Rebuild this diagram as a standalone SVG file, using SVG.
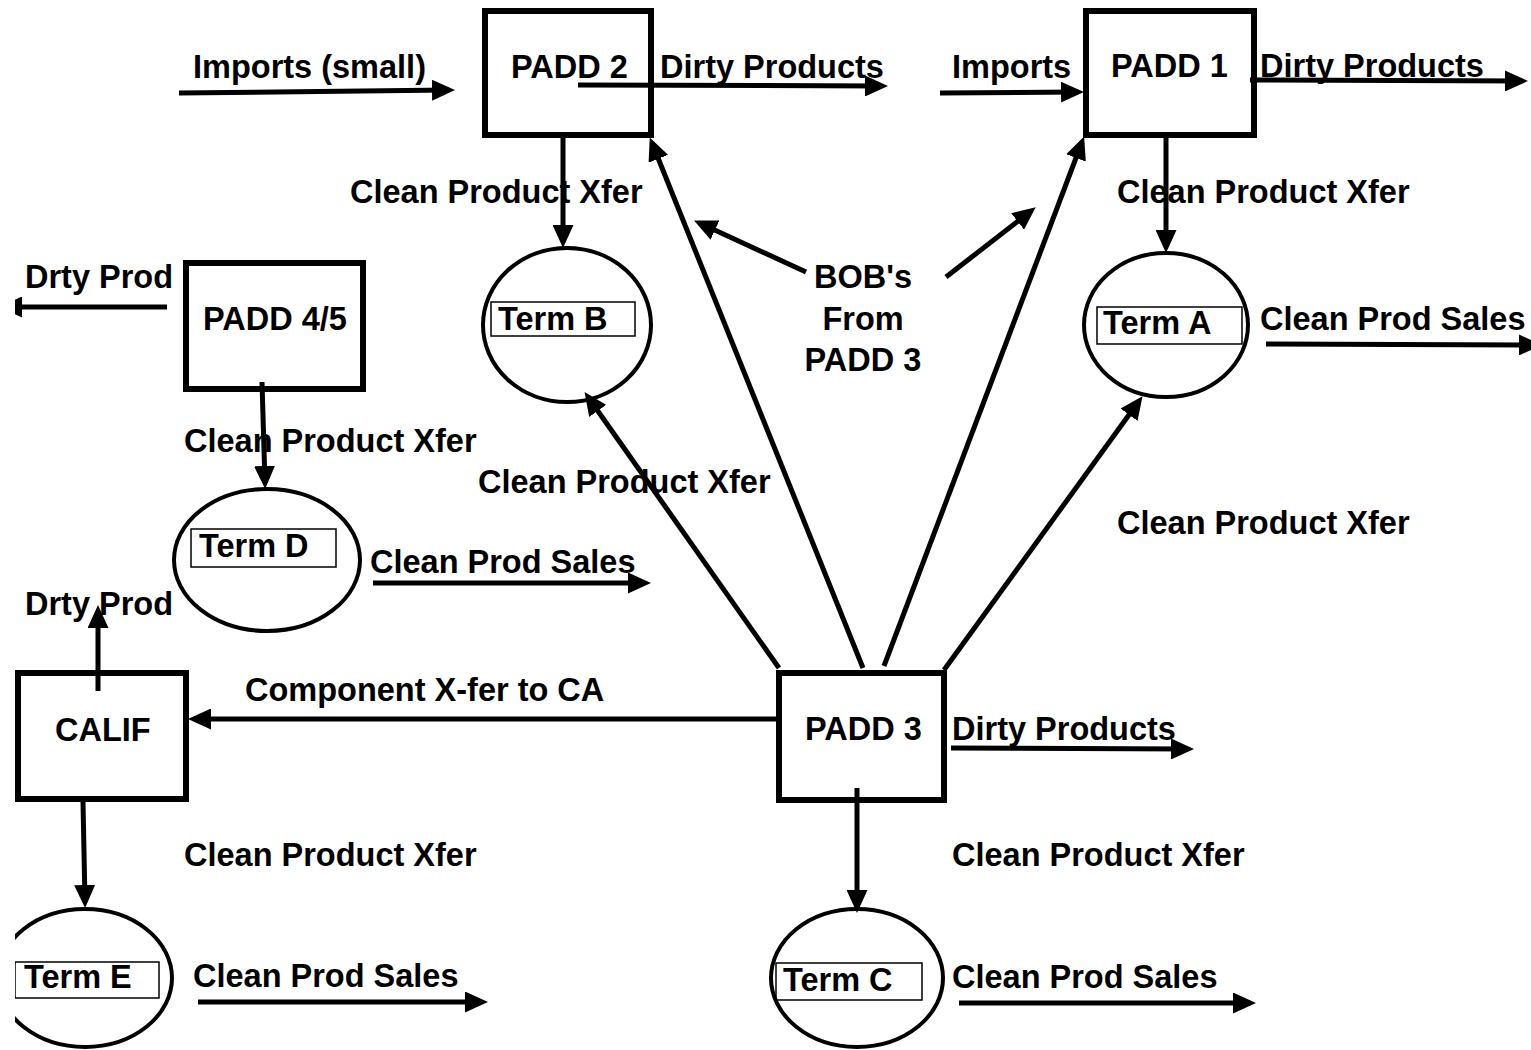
<svg xmlns="http://www.w3.org/2000/svg" width="1531" height="1050" viewBox="0 0 1531 1050">
<defs>
<style>
text{font-family:"Liberation Sans",Arial,sans-serif;font-weight:bold;font-size:32.5px;fill:#000}
.box{fill:#fff;stroke:#000;stroke-width:6}
.term{fill:#fff;stroke:#000;stroke-width:4}
.lbl{fill:none;stroke:#000;stroke-width:1.5}
.c{fill:none;stroke:#000;stroke-width:5;stroke-linecap:butt;marker-end:url(#ah)}
</style>
<marker id="ah" markerUnits="userSpaceOnUse" markerWidth="23" markerHeight="21" refX="17" refY="10.5" orient="auto" viewBox="0 0 23 21"><path d="M0,0 L23,10.5 L0,21 Z" fill="#000"/></marker>
<clipPath id="clip"><rect x="15" y="0" width="1516" height="1050"/></clipPath>
</defs>
<rect x="0" y="0" width="1531" height="1050" fill="#fff"/>
<g clip-path="url(#clip)">
<g id="labels">
<text x="193" y="78">Imports (small)</text>
<text x="660" y="78">Dirty Products</text>
<text x="952" y="78">Imports</text>
<text x="1260" y="77">Dirty Products</text>
<text x="350" y="203">Clean Product Xfer</text>
<text x="1117" y="203">Clean Product Xfer</text>
<text x="25" y="288">Drty Prod</text>
<text x="863" y="288" text-anchor="middle">BOB's</text>
<text x="863" y="330" text-anchor="middle">From</text>
<text x="863" y="371" text-anchor="middle">PADD 3</text>
<text x="1260" y="330">Clean Prod Sales</text>
<text x="184" y="452">Clean Product Xfer</text>
<text x="478" y="493">Clean Product Xfer</text>
<text x="1117" y="534">Clean Product Xfer</text>
<text x="370" y="573">Clean Prod Sales</text>
<text x="25" y="615">Drty Prod</text>
<text x="245" y="701">Component X-fer to CA</text>
<text x="952" y="740">Dirty Products</text>
<text x="184" y="866">Clean Product Xfer</text>
<text x="952" y="866">Clean Product Xfer</text>
<text x="193" y="987">Clean Prod Sales</text>
<text x="952" y="988">Clean Prod Sales</text>
</g>
<g id="padd2"><rect class="box" x="485" y="11" width="166" height="124"/><text x="511" y="78">PADD 2</text></g>
<g id="padd1"><rect class="box" x="1086" y="11" width="168" height="124"/><text x="1111" y="77">PADD 1</text></g>
<g id="padd45"><rect class="box" x="186" y="263" width="177" height="126"/><text x="203" y="330">PADD 4/5</text></g>
<g id="calif"><rect class="box" x="18" y="673" width="168" height="126"/><text x="55" y="741">CALIF</text></g>
<g id="padd3"><rect class="box" x="779" y="673" width="165" height="127"/><text x="805" y="740">PADD 3</text></g>
<g id="termB"><ellipse class="term" cx="567" cy="325" rx="84" ry="77"/><rect class="lbl" x="491" y="302" width="144" height="34"/><text x="498" y="330">Term B</text></g>
<g id="termA"><ellipse class="term" cx="1166" cy="325" rx="82" ry="72"/><rect class="lbl" x="1097" y="307" width="145" height="37"/><text x="1103" y="334">Term A</text></g>
<g id="termD"><ellipse class="term" cx="267" cy="560" rx="93" ry="71"/><rect class="lbl" x="191" y="529" width="145" height="38"/><text x="199" y="557">Term D</text></g>
<g id="termE"><ellipse class="term" cx="85" cy="978" rx="87" ry="69"/><rect class="lbl" x="15" y="962" width="144" height="36"/><text x="24" y="988">Term E</text></g>
<g id="termC"><ellipse class="term" cx="857" cy="978" rx="86" ry="69"/><rect class="lbl" x="776" y="963" width="146" height="37"/><text x="783" y="991">Term C</text></g>
<g id="connectors">
<path class="c" d="M179,93 L449,90"/>
<path class="c" d="M578,85 L882,86"/>
<path class="c" d="M940,93 L1078,92"/>
<path class="c" d="M1250,80 L1522,81"/>
<path class="c" d="M563,138 L563,242"/>
<path class="c" d="M1166,138 L1166,247"/>
<path class="c" d="M1266,344 L1536,345"/>
<path class="c" d="M167,307 L5,307"/>
<path class="c" d="M262,382 L265,483"/>
<path class="c" d="M373,583 L645,583"/>
<path class="c" d="M98,691 L98,611"/>
<path class="c" d="M777,719 L194,719"/>
<path class="c" d="M83,802 L85,902"/>
<path class="c" d="M198,1002 L482,1002"/>
<path class="c" d="M951,748 L1188,749"/>
<path class="c" d="M857,788 L857,907"/>
<path class="c" d="M959,1003 L1250,1003"/>
<path class="c" d="M779,668 L588,397"/>
<path class="c" d="M863,668 L652,143"/>
<path class="c" d="M884,666 L1082,142"/>
<path class="c" d="M944,670 L1139,401"/>
<path class="c" d="M806,272 L699.5,223"/>
<path class="c" d="M946,277 L1031,211"/>
</g>
</g>
</svg>
